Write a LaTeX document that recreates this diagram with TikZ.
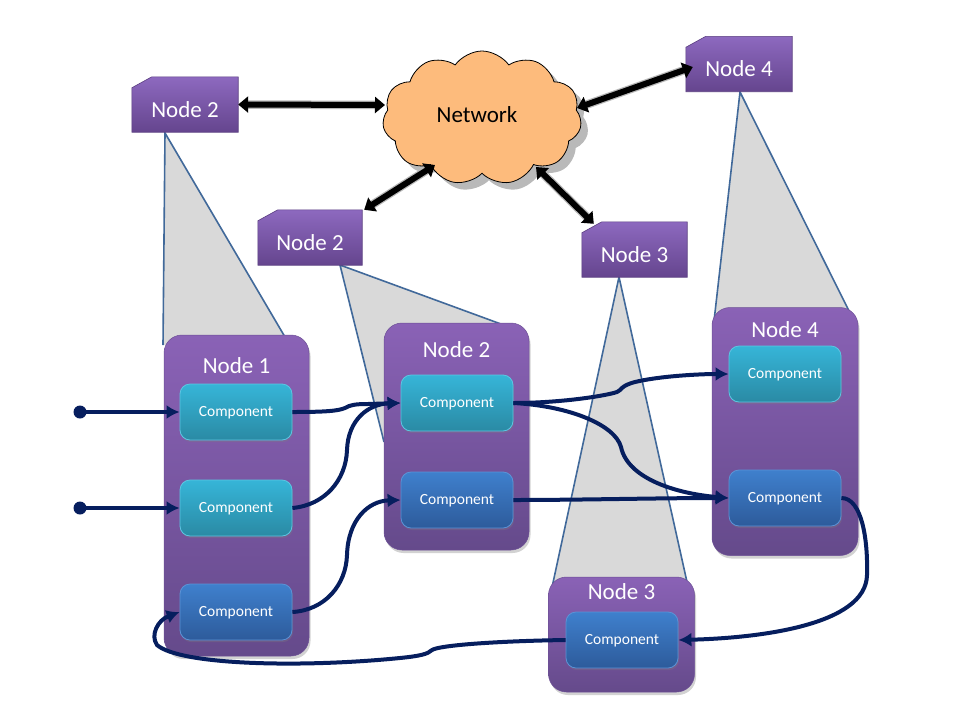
\documentclass[tikz,border=0pt]{standalone}
\usepackage{fontspec}
\setmainfont{Carlito}
\usetikzlibrary{arrows.meta,shadows,shapes.symbols,calc}
\definecolor{navy}{HTML}{061E5E}
\definecolor{smtop}{HTML}{8D69BF}
\definecolor{smbot}{HTML}{65458E}
\definecolor{smedge}{HTML}{5A3E80}
\definecolor{bgtop}{HTML}{8A62B6}
\definecolor{bgbot}{HTML}{654A8B}
\definecolor{bgedge}{HTML}{6D5096}
\definecolor{tealtop}{HTML}{36B5D8}
\definecolor{tealbot}{HTML}{2A8AA4}
\definecolor{tealedge}{HTML}{5CC6E2}
\definecolor{bluetop}{HTML}{3F80CD}
\definecolor{bluebot}{HTML}{2D5B9B}
\definecolor{blueedge}{HTML}{5B93D6}
\definecolor{trigray}{HTML}{D9D9D9}
\definecolor{triedge}{HTML}{41699A}
\definecolor{cloudorange}{HTML}{FDBB7C}
\tikzset{
  smallbox/.style={rectangle, inner sep=0pt, minimum height=55pt},
  smallfill/.style={top color=smtop, bottom color=smbot, draw=smedge, line width=0.6pt},
  bigbox/.style={rectangle, rounded corners=18pt, inner sep=0pt, minimum width=145pt,
    top color=bgtop, bottom color=bgbot, draw=bgedge, line width=0.5pt,
    drop shadow={shadow xshift=1.5pt, shadow yshift=-3pt, opacity=0.35}},
  title/.style={text=white, font=\fontsize{23}{26}\selectfont, inner sep=0pt},
  comp/.style={rectangle, rounded corners=10pt, minimum width=112pt, minimum height=56pt,
    inner sep=0pt, text=white, font=\fontsize{15.5}{18}\selectfont, line width=0.8pt,
    text height=8pt, text depth=0pt,
    drop shadow={shadow xshift=1pt, shadow yshift=-2pt, opacity=0.3}},
  compteal/.style={comp, top color=tealtop, bottom color=tealbot, draw=tealedge},
  compblue/.style={comp, top color=bluetop, bottom color=bluebot, draw=blueedge},
  trifill/.style={fill=trigray},
  triline/.style={draw=triedge, line width=1.6pt},
  conn/.style={draw=navy, line width=4pt, -{Latex[length=13pt,width=14pt]}},
  netarrow/.style={draw=black, line width=6pt,
    {Triangle[length=10pt,width=16pt]}-{Triangle[length=10pt,width=16pt]},
    preaction={draw=gray!55, line width=8.5pt, arrows=-, shorten <=7pt, shorten >=7pt}},
  dot/.style={circle, fill=navy, minimum size=13pt, inner sep=0pt}
}
\begin{document}
\begin{tikzpicture}[x=1pt,y=-1pt]
\useasboundingbox (0,0) rectangle (960,720);
\fill[white] (0,0) rectangle (960,720);

% ---- gray zoom triangles
\fill[trifill] (165,133) -- (163,345) -- (285,337) -- cycle;
\draw[triline] (163,345) -- (165,133) -- (285,337);
\fill[trifill] (340,265) -- (384,442) -- (520,331) -- cycle;
\draw[triline] (384,442) -- (340,265) -- (520,331);
\fill[trifill] (619,277) -- (551,592) -- (687,582) -- cycle;
\draw[triline] (551,592) -- (619,277) -- (687,582);
\fill[trifill] (740,92) -- (713,330) -- (850,313) -- cycle;
\draw[triline] (713,330) -- (740,92) -- (850,313);

% ---- small nodes
\node[smallbox, minimum width=106pt] (s2a) at (185,104.5) {};
\path[smallfill] ($(s2a.north west)+(0,11)$) -- ($(s2a.north west)+(20,0)$) -- (s2a.north east) -- (s2a.south east) -- (s2a.south west) -- cycle;
\node[title] (s2at) at (185,109.5) {Node 2};

\node[smallbox, minimum width=104pt] (s2b) at (310,237.5) {};
\path[smallfill] ($(s2b.north west)+(0,11)$) -- ($(s2b.north west)+(20,0)$) -- (s2b.north east) -- (s2b.south east) -- (s2b.south west) -- cycle;
\node[title] (s2bt) at (310,242.5) {Node 2};

\node[smallbox, minimum width=105pt] (s3) at (634.5,249.5) {};
\path[smallfill] ($(s3.north west)+(0,11)$) -- ($(s3.north west)+(20,0)$) -- (s3.north east) -- (s3.south east) -- (s3.south west) -- cycle;
\node[title] (s3t) at (634.5,254.5) {Node 3};

\node[smallbox, minimum width=106pt] (s4) at (739,64) {};
\path[smallfill] ($(s4.north west)+(0,11)$) -- ($(s4.north west)+(20,0)$) -- (s4.north east) -- (s4.south east) -- (s4.south west) -- cycle;
\node[title] (s4t) at (739,69) {Node 4};

% ---- network cloud
\node[cloud, cloud puffs=11, cloud puff arc=110, aspect=1.45, minimum width=199pt,
  minimum height=134pt, inner sep=0pt, fill=cloudorange, draw=black, line width=0.8pt,
  drop shadow={shadow xshift=7pt, shadow yshift=-7pt, opacity=0.55},
  font=\fontsize{23}{26}\selectfont] (net) at (482,118) {};
\node[font=\fontsize{23}{26}\selectfont, inner sep=0pt] (nett) at (477,115) {Network};

% ---- network arrows
\draw[netarrow] (s2a.east) -- ($(net.center)+(-97,-13)$);
\draw[netarrow] ($(net.center)+(-47,47)$) -- ($(s2b.north east)+(2,0)$);
\draw[netarrow] ($(net.center)+(54,49)$) -- ($(s3.north west)+(12,2)$);
\draw[netarrow] ($(net.center)+(95,-10)$) -- ($(s4.west)+(7,3)$);

% ---- big nodes
\node[bigbox, minimum height=321pt] (b1) at (236.5,495.5) {};
\node[title] (b1t) at (236.5,366) {Node 1};
\node[bigbox, minimum height=227pt] (b2) at (456.5,436.5) {};
\node[title] (b2t) at (456.5,350) {Node 2};
\node[bigbox, minimum width=146pt, minimum height=248pt] (b4) at (785,431.5) {};
\node[title] (b4t) at (785,330) {Node 4};
\node[bigbox, minimum width=146pt, minimum height=115pt] (b3) at (621.5,634.5) {};
\node[title] (b3t) at (621.5,592) {Node 3};

% ---- components
\node[compteal] (c11) at (236,412) {Component};
\node[compteal] (c12) at (236,508) {Component};
\node[compblue] (c13) at (236,612) {Component};
\node[compteal] (c21) at (457,403) {Component};
\node[compblue] (c22) at (457,500) {Component};
\node[compteal] (c41) at (785,374) {Component};
\node[compblue] (c42) at (785,498) {Component};
\node[compblue] (c31) at (622,640) {Component};

% ---- inputs
\node[dot] (d1) at (80,412) {};
\node[dot] (d2) at (80,508) {};

% ---- connectors
\draw[conn] (d1.center) -- (c11.west);
\draw[conn] (d2.center) -- (c12.west);
\draw[conn] (c11.east) .. controls (325,412) and (338,411) .. (345,408)
   .. controls (350,405) and (355,404) .. (368,404) -- (c21.west);
\draw[conn] (c12.east) .. controls (325,505) and (346,480) .. (347,450)
   .. controls (348,420) and (368,404) .. (c21.west);
\draw[conn] (c13.east) .. controls (325,610) and (346,585) .. (347,555)
   .. controls (348,520) and (368,501) .. (c22.west);
\draw[conn] (c21.east) .. controls (560,403) and (605,396) .. (617,392)
   .. controls (622,390) and (620,386) .. (635,382)
   .. controls (660,376) and (700,374) .. (c41.west);
\draw[conn] (c21.east) .. controls (570,406) and (615,425) .. (621,447)
   .. controls (628,480) and (680,494) .. (c42.west);
\draw[conn] (c22.east) .. controls (580,500) and (660,498) .. (c42.west);
\draw[conn] (c42.east) .. controls (862,498) and (868,540) .. (867,575)
   .. controls (866,625) and (760,638) .. (c31.east);
\draw[conn] (c31.west) .. controls (500,641) and (440,645) .. (432,650)
   .. controls (428,654) and (420,656) .. (400,658)
   .. controls (300,668) and (180,665) .. (157,645)
   .. controls (150,635) and (158,620) .. (c13.west);
\end{tikzpicture}
\end{document}
